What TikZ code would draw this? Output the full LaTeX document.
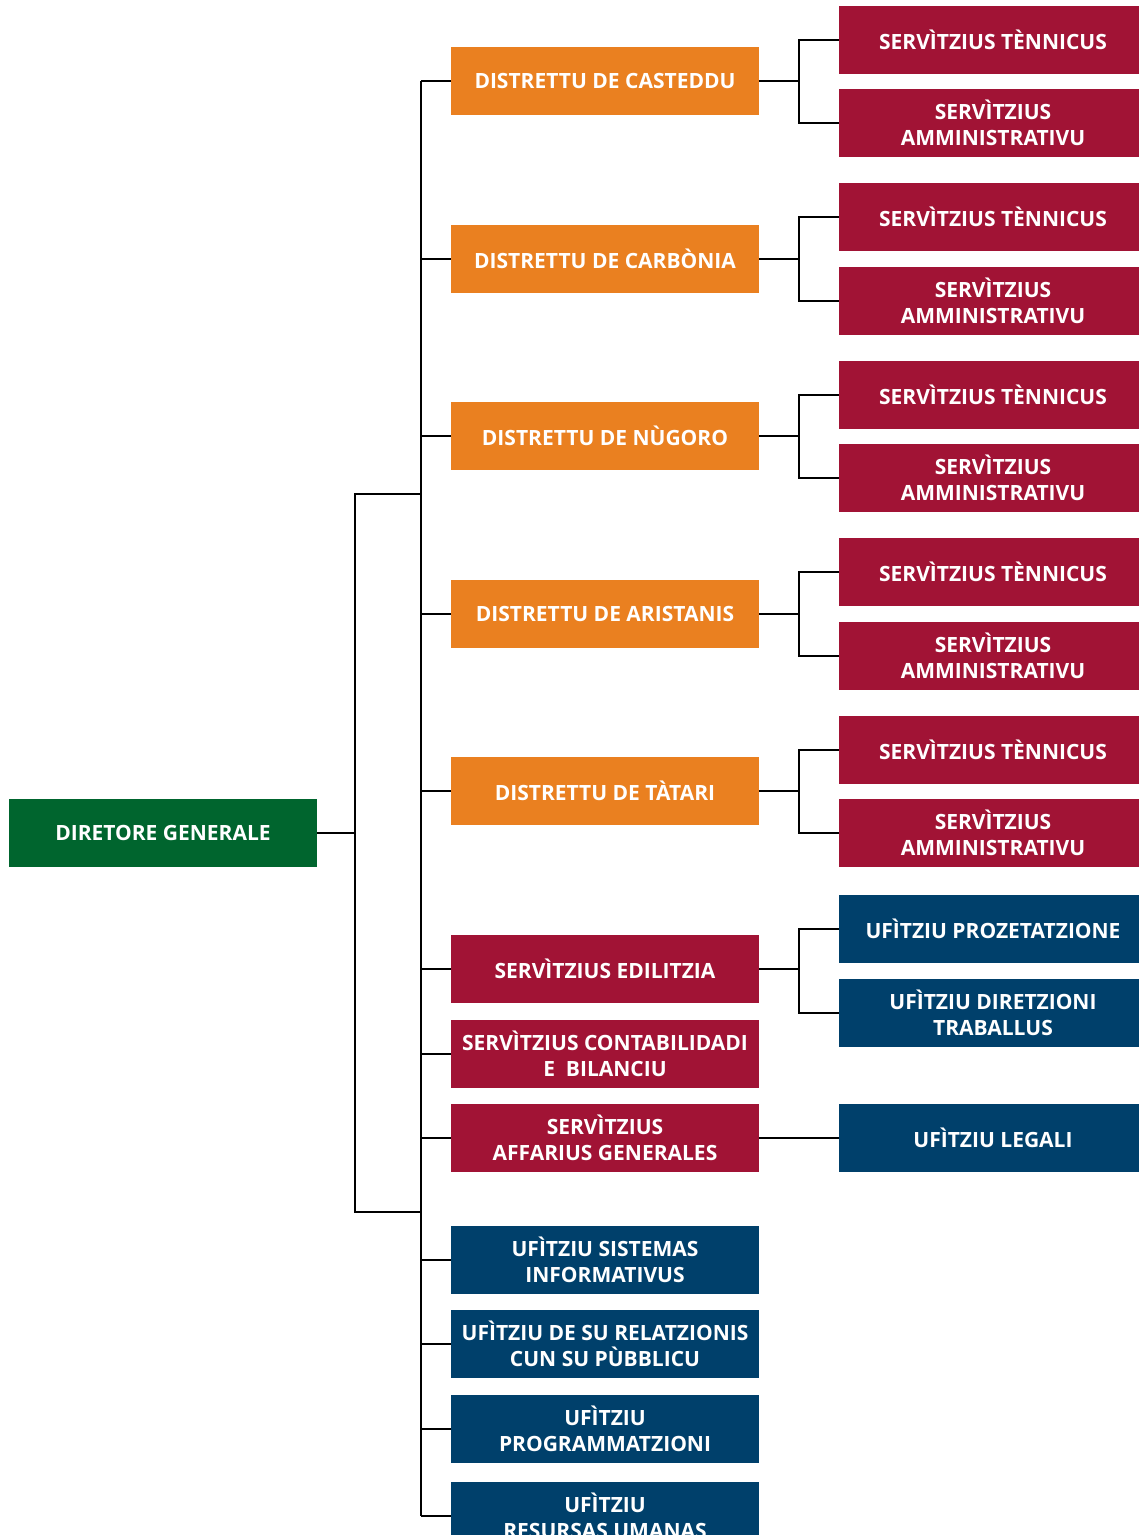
\documentclass[tikz,border=0pt]{standalone}
\usepackage{fontspec}
\setmainfont{Open Sans}
\definecolor{orangeD}{RGB}{234,128,32}
\definecolor{crimsonS}{RGB}{161,19,53}
\definecolor{navyU}{RGB}{0,64,107}
\definecolor{greenG}{RGB}{0,101,46}
\begin{document}
\begin{tikzpicture}[x=1pt,y=-1pt,
  box/.style={minimum width=308pt,minimum height=68pt,inner sep=0pt,align=center,
    text=white,font=\fontsize{21}{26}\selectfont\bfseries},
  dist/.style={box,fill=orangeD},
  serv/.style={box,fill=crimsonS},
  ufi/.style={box,fill=navyU},
  dir/.style={box,fill=greenG},
  conn/.style={draw=black,line width=2pt}]
\useasboundingbox (0,0) rectangle (1139,1535);
% director
\node[dir] (dg) at (163,833) {DIRETORE GENERALE};
% middle column
\node[dist] (d1) at (605,81) {DISTRETTU DE CASTEDDU};
\node[dist] (d2) at (605,259) {DISTRETTU DE CARBÒNIA};
\node[dist] (d3) at (605,436) {DISTRETTU DE NÙGORO};
\node[dist] (d4) at (605,614) {DISTRETTU DE ARISTANIS};
\node[dist] (d5) at (605,791) {DISTRETTU DE TÀTARI};
\node[serv] (s1) at (605,969) {SERVÌTZIUS EDILITZIA};
\node[serv] (s2) at (605,1054) {SERVÌTZIUS CONTABILIDADI\\E\ \ BILANCIU};
\node[serv] (s3) at (605,1138) {SERVÌTZIUS\\AFFARIUS GENERALES};
\node[ufi] (u1) at (605,1260) {UFÌTZIU SISTEMAS\\INFORMATIVUS};
\node[ufi] (u2) at (605,1344) {UFÌTZIU DE SU RELATZIONIS\\CUN SU PÙBBLICU};
\node[ufi] (u3) at (605,1429) {UFÌTZIU\\PROGRAMMATZIONI};
\node[ufi] (u4) at (605,1516) {UFÌTZIU\\RESURSAS UMANAS};
% right column
\node[serv] (t1) at (993,40) {SERVÌTZIUS TÈNNICUS};
\node[serv] (a1) at (993,123) {SERVÌTZIUS\\AMMINISTRATIVU};
\node[serv] (t2) at (993,217) {SERVÌTZIUS TÈNNICUS};
\node[serv] (a2) at (993,301) {SERVÌTZIUS\\AMMINISTRATIVU};
\node[serv] (t3) at (993,395) {SERVÌTZIUS TÈNNICUS};
\node[serv] (a3) at (993,478) {SERVÌTZIUS\\AMMINISTRATIVU};
\node[serv] (t4) at (993,572) {SERVÌTZIUS TÈNNICUS};
\node[serv] (a4) at (993,656) {SERVÌTZIUS\\AMMINISTRATIVU};
\node[serv] (t5) at (993,750) {SERVÌTZIUS TÈNNICUS};
\node[serv] (a5) at (993,833) {SERVÌTZIUS\\AMMINISTRATIVU};
\node[ufi] (p1) at (993,929) {UFÌTZIU PROZETATZIONE};
\node[ufi] (p2) at (993,1013) {UFÌTZIU DIRETZIONI\\TRABALLUS};
\node[ufi] (lg) at (993,1138) {UFÌTZIU LEGALI};
% helper coordinates
\coordinate (tx) at (421,0);
\coordinate (jx) at (799,0);
\coordinate (b1) at (355,494);
\coordinate (b2) at (355,1212);
\coordinate (c1) at (421,494);
\coordinate (c2) at (421,1212);
% main trunk
\draw[conn] (d1.west -| tx) -- (u4.west -| tx);
\foreach \n in {d1,d2,d3,d4,d5,s1,s2,s3,u1,u2,u3,u4}
  \draw[conn] (\n.west) -- (\n.west -| tx);
% outer bracket
\draw[conn] (c1) -- (b1) -- (b2) -- (c2);
\draw[conn] (dg.east) -- (dg.east -| b1);
% district brackets
\foreach \i in {1,...,5}{
  \draw[conn] (d\i.east) -- (d\i.east -| jx);
  \draw[conn] (t\i.west) -- (t\i.west -| jx) -- (a\i.west -| jx) -- (a\i.west);
}
\draw[conn] (s1.east) -- (s1.east -| jx);
\draw[conn] (p1.west) -- (p1.west -| jx) -- (p2.west -| jx) -- (p2.west);
\draw[conn] (s3.east) -- (lg.west);
\end{tikzpicture}
\end{document}
